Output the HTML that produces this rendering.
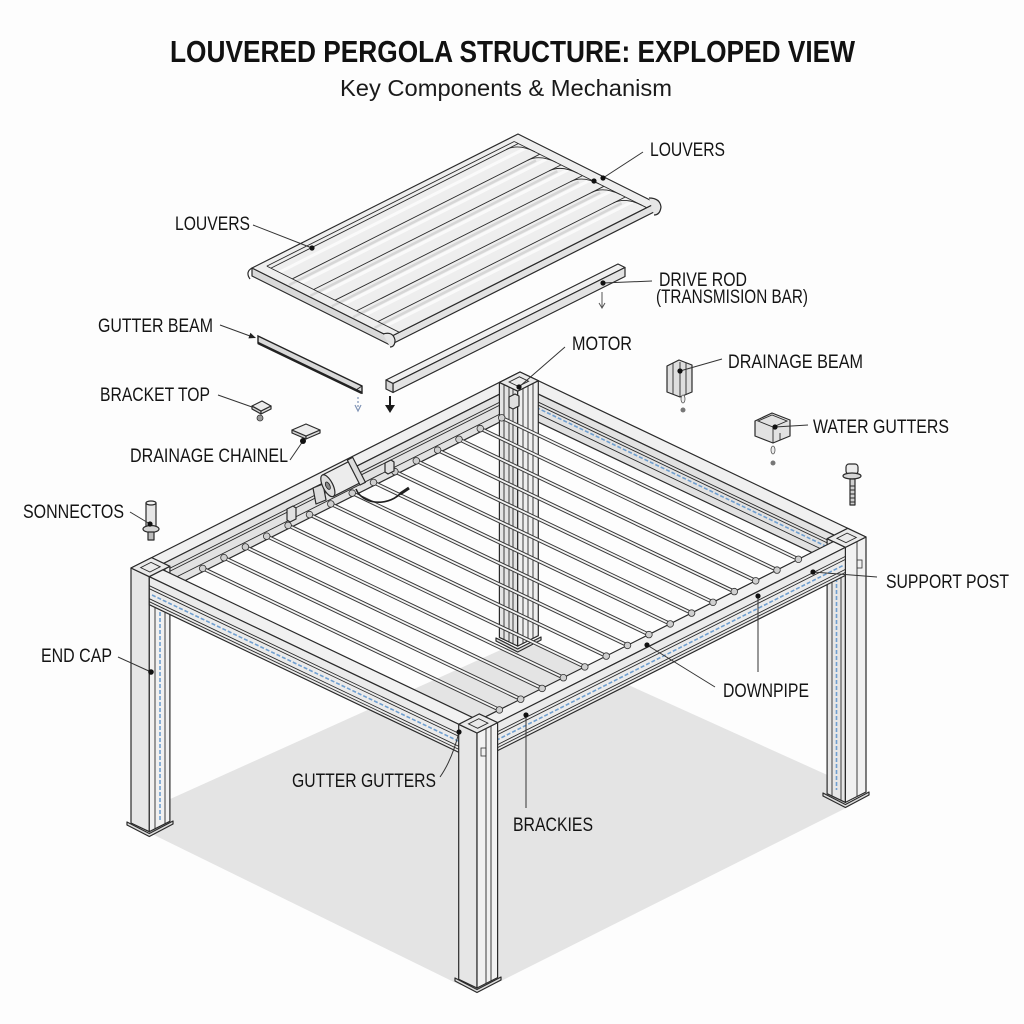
<!DOCTYPE html>
<html><head><meta charset="utf-8"><style>
html,body{margin:0;padding:0;background:#fdfdfd}
svg{display:block}
.t{font-family:"Liberation Sans",Arial,sans-serif;font-size:19px;fill:#141414}
.s{stroke:#2a2a2a;stroke-width:1.2;stroke-linejoin:round}
.ln{stroke:#2a2a2a;stroke-width:0.9;fill:none}
.ld{stroke:#333;stroke-width:1;fill:none}
.bl{stroke:#6f9fd0;stroke-width:1.6;stroke-dasharray:4 2;fill:none}
</style></head><body>
<svg width="1024" height="1024" viewBox="0 0 1024 1024" xmlns="http://www.w3.org/2000/svg">
<defs>
<path id="sl" d="M501.7,417.8L824.5,571.7 M480.3,428.6L803.1,582.5 M459,439.3L781.8,593.2 M437.6,450.1L760.4,604 M416.3,460.8L739.1,614.7 M394.9,471.6L717.7,625.5 M373.5,482.4L696.3,636.3 M352.2,493.1L675,647 M330.8,503.9L653.6,657.8 M309.5,514.6L632.3,668.5 M288.1,525.4L610.9,679.3 M266.7,536.2L589.5,690.1 M245.4,546.9L568.2,700.8 M224,557.7L546.8,711.6 M202.7,568.4L525.5,722.3"/>
</defs>
<rect width="1024" height="1024" fill="#fdfdfd"/>

<!-- Title -->
<text x="170" y="62" textLength="685" lengthAdjust="spacingAndGlyphs" style="font-family:'Liberation Sans',Arial,sans-serif;font-size:31px;font-weight:bold;fill:#111">LOUVERED PERGOLA STRUCTURE: EXPLOPED VIEW</text>
<text x="340" y="96" textLength="332" lengthAdjust="spacingAndGlyphs" style="font-family:'Liberation Sans',Arial,sans-serif;font-size:23px;fill:#1a1a1a">Key Components &amp; Mechanism</text>

<!-- Shadow -->
<polygon points="168,800 505,648 540,645 845,783 850,806 497,983 460,985 150,833 160,825" fill="#e4e4e4"/>

<!-- Back-left beam -->
<polygon class="s" points="520,372 131,568 143.1,573.8 532.1,377.8" fill="#f0f0f0"/>
<polygon class="s" points="518.5,384.7 156.7,566.9 156.7,594.9 518.5,412.7" fill="#e2e2e2"/>
<path class="ln" d="M518.5,392.7L156.7,574.9 M518.5,395.7L156.7,577.9 M518.5,404.7L156.7,586.9"/>
<!-- Back-right beam -->
<polygon class="s" points="520,372 866,537 852.4,543.9 506.4,378.9" fill="#f0f0f0"/>
<polygon class="s" points="518.5,384.7 840.3,538.1 840.3,566.1 518.5,412.7" fill="#e2e2e2"/>
<path class="ln" d="M518.5,392.7L840.3,546.1 M518.5,395.7L840.3,549.1 M518.5,404.7L840.3,558.1"/>
<path class="bl" d="M520,399.7L838,552"/>

<!-- Back post -->
<polygon class="s" points="499.4,382.4 517.7,391.1 517.7,646.1 499.4,637.4" fill="#e4e4e4"/>
<polygon class="s" points="517.7,391.1 538.3,380.7 538.3,635.7 517.7,646.1" fill="#efefef"/>
<path class="ln" d="M504,384.6V639.6 M509,387V642 M513,388.9V643.9 M523,388.4V643.4 M528,385.9V640.9 M533,383.4V638.4"/>
<polygon class="s" points="496,638 517.7,649 541,637 541,640 517.7,652 496,641" fill="#dcdcdc"/>
<polygon class="s" points="520,372 499.4,382.4 517.7,391.1 538.3,380.7" fill="#eaeaea"/>
<polygon class="ln" points="519.4,376.8 509.1,382 518.3,386.4 528.6,381.2" fill="#d4d4d4"/>

<!-- Slats -->
<use href="#sl" fill="none" stroke="#3a3a3a" stroke-width="3.8"/>
<use href="#sl" fill="none" stroke="#f4f4f4" stroke-width="1.8"/>
<g fill="#cfcfcf" stroke="#333" stroke-width="0.8">
<circle cx="501.7" cy="417.8" r="3.3"/><circle cx="480.3" cy="428.6" r="3.3"/><circle cx="459" cy="439.3" r="3.3"/><circle cx="437.6" cy="450.1" r="3.3"/><circle cx="416.3" cy="460.8" r="3.3"/><circle cx="394.9" cy="471.6" r="3.3"/><circle cx="373.5" cy="482.4" r="3.3"/><circle cx="352.2" cy="493.1" r="3.3"/><circle cx="330.8" cy="503.9" r="3.3"/><circle cx="309.5" cy="514.6" r="3.3"/><circle cx="288.1" cy="525.4" r="3.3"/><circle cx="266.7" cy="536.2" r="3.3"/><circle cx="245.4" cy="546.9" r="3.3"/><circle cx="224" cy="557.7" r="3.3"/><circle cx="202.7" cy="568.4" r="3.3"/>
</g>

<!-- Small blocks & motor on back-left beam -->
<polygon class="s" points="287,509 293,506 296,508 296,519 290,522 287,520" fill="#e0e0e0" stroke-width="0.9"/>
<polygon class="s" points="385,463 391,460 394,462 394,471 388,474 385,472" fill="#e0e0e0" stroke-width="0.9"/>
<polygon class="s" points="509,397 515,394 519,396 519,406 513,409 509,407" fill="#e0e0e0" stroke-width="0.9"/>
<polygon class="s" points="313,488 323,484 326,500 316,504" fill="#dcdcdc" stroke-width="0.9"/>
<g transform="translate(343,478) rotate(-27)">
<rect class="s" x="-17" y="-12" width="34" height="24" fill="#ececec"/>
<rect class="s" x="12" y="-14" width="6" height="28" fill="#dcdcdc"/>
<ellipse class="s" cx="-17" cy="0" rx="5" ry="12" fill="#dedede"/>
<ellipse cx="-17" cy="0" rx="2" ry="4" fill="#888" stroke="#222" stroke-width="0.8"/>
</g>
<path d="M356,489 C362,504 386,507 400,494" stroke="#1e1e1e" stroke-width="1.6" fill="none"/>
<path d="M400,494 L409,488" stroke="#1e1e1e" stroke-width="3"/>

<!-- Left post -->
<polygon class="s" points="131,568 149.3,576.7 149.3,831.7 131,823" fill="#e6e6e6"/>
<polygon class="s" points="149.3,576.7 169.9,566.3 169.9,821.3 149.3,831.7" fill="#f1f1f1"/>
<path class="ln" d="M155,574V829 M165,569V824"/>
<path class="bl" d="M160,606V822"/>
<polygon class="s" points="127,822 149.3,833.5 173,821 173,824 149.3,836.5 127,825" fill="#dcdcdc"/>
<polygon class="s" points="131,568 149.3,576.7 169.9,566.3 151.6,557.6" fill="#eaeaea"/>
<polygon class="ln" points="140.7,567.6 149.9,572 160.2,566.8 151,562.4" fill="#d4d4d4"/>

<!-- Right post -->
<polygon class="s" points="827.1,538.7 845.4,547.4 845.4,802.4 827.1,793.7" fill="#e6e6e6"/>
<polygon class="s" points="845.4,547.4 866,537 866,792 845.4,802.4" fill="#f1f1f1"/>
<path class="ln" d="M832,541V796 M841,545V800 M857,541V796"/>
<path class="bl" d="M836.5,578V790"/>
<polygon class="s" points="823,793 845.4,804.5 869,792 869,795 845.4,807.5 823,796" fill="#dcdcdc"/>
<polygon class="s" points="866,537 845.4,547.4 827.1,538.7 847.7,528.3" fill="#eaeaea"/>
<polygon class="ln" points="856.3,537.5 846,542.6 836.9,538.3 847.1,533.1" fill="#d4d4d4"/>
<rect x="857" y="560" width="5" height="8" fill="none" stroke="#333" stroke-width="0.8"/>

<!-- Front-left beam -->
<polygon class="s" points="149.3,576.7 477,733 490.6,726.1 162.9,569.8" fill="#f1f1f1"/>
<polygon class="s" points="149.3,576.7 477,733 477,761 149.3,604.7" fill="#ebebeb"/>
<path class="ln" d="M149.3,585.7L477,742 M149.3,588.7L477,745 M149.3,598.7L477,755 M149.3,601.7L477,758"/>
<path class="bl" d="M152,595L475,749"/>

<!-- Front-right beam -->
<polygon class="s" points="477,733 845.4,547.4 833.3,541.6 464.9,727.2" fill="#f1f1f1"/>
<polygon class="s" points="477,733 845.4,547.4 845.4,575.4 477,761" fill="#ebebeb"/>
<path class="ln" d="M477,742L845.4,556.4 M477,745L845.4,559.4 M477,755L845.4,569.4 M477,758L845.4,572.4"/>
<path class="bl" d="M480,748.5L843,565.5"/>
<g fill="#cfcfcf" stroke="#333" stroke-width="0.8">
<circle cx="798.4" cy="559.3" r="3.3"/><circle cx="777" cy="570.1" r="3.3"/><circle cx="755.7" cy="580.8" r="3.3"/><circle cx="734.3" cy="591.6" r="3.3"/><circle cx="713" cy="602.3" r="3.3"/><circle cx="691.6" cy="613.1" r="3.3"/><circle cx="670.2" cy="623.9" r="3.3"/><circle cx="648.9" cy="634.6" r="3.3"/><circle cx="627.5" cy="645.4" r="3.3"/><circle cx="606.2" cy="656.1" r="3.3"/><circle cx="584.8" cy="666.9" r="3.3"/><circle cx="563.4" cy="677.7" r="3.3"/><circle cx="542.1" cy="688.4" r="3.3"/><circle cx="520.7" cy="699.2" r="3.3"/><circle cx="499.4" cy="709.9" r="3.3"/>
</g>

<!-- Front post -->
<polygon class="s" points="458.7,724.3 477,733 477,988 458.7,979.3" fill="#e6e6e6"/>
<polygon class="s" points="477,733 497.6,722.6 497.6,977.6 477,988" fill="#f1f1f1"/>
<path class="ln" d="M486,729V984 M491,726V981"/>
<rect x="481" y="748" width="5" height="8" fill="none" stroke="#333" stroke-width="0.8"/>
<polygon class="s" points="455,978 477,989.5 501,977 501,980 477,992.5 455,981" fill="#dcdcdc"/>
<polygon class="s" points="477,733 497.6,722.6 479.3,713.9 458.7,724.3" fill="#eaeaea"/>
<polygon class="ln" points="477.6,728.3 487.9,723.1 478.8,718.7 468.5,723.9" fill="#d4d4d4"/>

<!-- Louver panel -->
<polygon class="s" points="252,268 390,337 390,345 252,276" fill="#d9d9d9"/>
<polygon class="s" points="390,337 656,203 656,211 390,345" fill="#e2e2e2"/>
<polygon class="s" points="252,268 518,134 656,203 390,337" fill="#eeeeee"/>
<path d="M279.2,272.3L526.6,147.7 M300.6,283L548,158.4 M322,293.7L569.4,169.1 M343.4,304.4L590.8,179.8 M364.8,315.1L612.2,190.5 M386.2,325.8L633.6,201.2" stroke="#fafafa" stroke-width="3" fill="none"/>
<path d="M289,285L536,160.5 M310.4,295.7L557.4,171.2 M331.8,306.4L578.8,181.9 M353.2,317.1L600.2,192.6 M374.6,327.8L621.6,203.3" stroke="#d6d6d6" stroke-width="2.5" fill="none"/>
<path class="ln" d="M266.8,266.1L514.2,141.5 M271,268.1L518.4,143.5 M292.4,278.8L539.8,154.2 M313.7,289.5L561.1,164.9 M335.1,300.2L582.5,175.6 M356.5,310.9L603.9,186.3 M377.9,321.6L625.3,197 M266.8,266.1L399.3,332.3 M514.2,141.5L646.7,207.7" stroke-width="1.1"/>
<path class="ln" d="M506.4,149.5Q518.4,143.5 535,151.8 M527.8,160.2Q539.8,154.2 556.4,162.5 M549.1,170.9Q561.1,164.9 577.7,173.2 M570.5,181.6Q582.5,175.6 599.1,183.9 M591.9,192.3Q603.9,186.3 620.5,194.6 M613.3,203Q625.3,197 641.9,205.3"/>
<path class="s" d="M649,198 Q660,198 661,207 Q660,215 654,215" fill="#e6e6e6"/>
<path class="s" d="M383,334 Q393,331 395,340 Q395,347 390,347" fill="#e6e6e6"/>
<path class="s" d="M252,268 Q245,272 250,279" fill="none"/>

<!-- Drive rod -->
<polygon class="s" points="386,380 618,264 625,267.5 393,383.5" fill="#f0f0f0"/>
<polygon class="s" points="393,383.5 625,267.5 625,276.5 393,392.5" fill="#e3e3e3"/>
<polygon class="s" points="386,380 393,383.5 393,392.5 386,389" fill="#d6d6d6"/>
<!-- Gutter beam -->
<polygon points="258,336 362,386 362,393 258,343" fill="#d9d9d9" stroke="#222" stroke-width="1.4"/>
<path d="M258,343L362,393" stroke="#222" stroke-width="2.5"/>
<path d="M356,390L362,386" stroke="#222" stroke-width="1"/>

<!-- Arrows -->
<path d="M358,397V409" stroke="#7f93b5" stroke-width="1.2" stroke-dasharray="2 2"/>
<path d="M355,405L358,411L361,405" stroke="#7f93b5" stroke-width="1.2" fill="none"/>
<path d="M390,396V406" stroke="#1a1a1a" stroke-width="2"/>
<polygon points="385,405 395,405 390,413" fill="#1a1a1a"/>
<path d="M602,292V307 M599,303L602,308L605,303" stroke="#555" stroke-width="1" fill="none"/>

<!-- Bracket top part -->
<polygon class="s" points="252,406 261,411 261,414 252,409" fill="#cfcfcf" stroke-width="0.9"/>
<polygon class="s" points="261,411 271,406 271,409 261,414" fill="#dadada" stroke-width="0.9"/>
<polygon class="s" points="252,406 262,401 271,406 261,411" fill="#ececec" stroke-width="0.9"/>
<circle cx="260" cy="418" r="3" fill="#9a9a9a" stroke="#333" stroke-width="0.8"/>
<!-- Drainage chainel plate -->
<polygon class="s" points="292,430 306,436 306,439 292,433" fill="#cfcfcf" stroke-width="0.9"/>
<polygon class="s" points="306,436 320,430 320,433 306,439" fill="#dadada" stroke-width="0.9"/>
<polygon class="s" points="292,430 306,424 320,430 306,436" fill="#ececec" stroke-width="0.9"/>
<!-- Sonnectos part -->
<rect class="s" x="146" y="503" width="10" height="24" fill="#e6e6e6" stroke-width="0.9"/>
<ellipse class="s" cx="151" cy="503" rx="5" ry="2" fill="#f2f2f2" stroke-width="0.9"/>
<ellipse class="s" cx="151" cy="529" rx="8" ry="3.5" fill="#d4d4d4" stroke-width="0.9"/>
<rect class="s" x="148" y="532" width="6" height="8" fill="#bbb" stroke-width="0.9"/>
<!-- Drainage beam part -->
<polygon class="s" points="667,366 679,360 692,365 692,392 680,397 667,392" fill="#dedede"/>
<path class="ln" d="M673,363V394 M680,362V397 M686,363V395"/>
<ellipse cx="683" cy="399" rx="2" ry="4" fill="#eee" stroke="#555" stroke-width="0.8"/>
<circle cx="683" cy="410" r="2.5" fill="#777"/>
<!-- Water gutters part -->
<polygon class="s" points="755,421 772,413 790,420 790,436 773,443 755,436" fill="#e2e2e2"/>
<polygon class="ln" points="758,421 772,415 787,421 773,427" fill="#f5f5f5"/>
<path class="ln" d="M773,427V443 M780,433V440"/>
<ellipse cx="773" cy="450" rx="2" ry="4" fill="#eee" stroke="#555" stroke-width="0.8"/>
<circle cx="773" cy="463" r="2.5" fill="#777"/>
<!-- Bolt right -->
<rect class="s" x="846" y="464" width="12" height="10" rx="3" fill="#ececec" stroke-width="0.9"/>
<ellipse class="s" cx="852" cy="476" rx="9" ry="3" fill="#d6d6d6" stroke-width="0.9"/>
<rect class="s" x="850" y="479" width="5" height="26" fill="#cfcfcf" stroke-width="0.9"/>
<path class="ln" d="M850,486H855 M850,490H855 M850,494H855 M850,498H855 M850,502H855" stroke-width="0.7"/>

<!-- Leaders -->
<g class="ld">
<path d="M643,152L603,178"/>
<path d="M253,225L312,248"/>
<path d="M652,281L603,283"/>
<path d="M220,325L250,336"/>
<path d="M565,347L519,387"/>
<path d="M722,359L680,371"/>
<path d="M218,395L252,407"/>
<path d="M808,425L775,427"/>
<path d="M290,460L303,441"/>
<path d="M130,512L150,524"/>
<path d="M877,577L813,572"/>
<path d="M118,657L151,672"/>
<path d="M715,687L647,645"/>
<path d="M758,596V672"/>
<path d="M440,777Q452,760 459,732"/>
<path d="M526,715V808"/>
</g>
<polygon points="256,338 248.4,338.4 250.4,332.8" fill="#222"/>
<g fill="#111">
<circle cx="603" cy="178" r="2.6"/><circle cx="594" cy="181" r="2.6"/>
<circle cx="312" cy="248" r="2.6"/>
<circle cx="603" cy="283" r="2.6"/>
<circle cx="519" cy="387" r="2.6"/>
<circle cx="680" cy="371" r="2.6"/>
<circle cx="775" cy="427" r="2.6"/>
<circle cx="303" cy="441" r="3"/>
<circle cx="150" cy="524" r="2.6"/>
<circle cx="813" cy="572" r="2.6"/>
<circle cx="151" cy="672" r="2.8"/>
<circle cx="647" cy="645" r="2.6"/>
<circle cx="758" cy="596" r="2.6"/>
<circle cx="459" cy="732" r="2.6"/>
<circle cx="526" cy="715" r="2.6"/>
</g>

<!-- Labels -->
<text class="t" x="650" y="156" textLength="75" lengthAdjust="spacingAndGlyphs">LOUVERS</text>
<text class="t" x="175" y="230" textLength="75" lengthAdjust="spacingAndGlyphs">LOUVERS</text>
<text class="t" x="659" y="286" textLength="88" lengthAdjust="spacingAndGlyphs">DRIVE ROD</text>
<text class="t" x="656" y="303" textLength="152" lengthAdjust="spacingAndGlyphs">(TRANSMISION BAR)</text>
<text class="t" x="98" y="332" textLength="115" lengthAdjust="spacingAndGlyphs">GUTTER BEAM</text>
<text class="t" x="572" y="350" textLength="60" lengthAdjust="spacingAndGlyphs">MOTOR</text>
<text class="t" x="728" y="368" textLength="135" lengthAdjust="spacingAndGlyphs">DRAINAGE BEAM</text>
<text class="t" x="100" y="401" textLength="110" lengthAdjust="spacingAndGlyphs">BRACKET TOP</text>
<text class="t" x="813" y="433" textLength="136" lengthAdjust="spacingAndGlyphs">WATER GUTTERS</text>
<text class="t" x="130" y="462" textLength="158" lengthAdjust="spacingAndGlyphs">DRAINAGE CHAINEL</text>
<text class="t" x="23" y="518" textLength="101" lengthAdjust="spacingAndGlyphs">SONNECTOS</text>
<text class="t" x="886" y="588" textLength="123" lengthAdjust="spacingAndGlyphs">SUPPORT POST</text>
<text class="t" x="41" y="662" textLength="71" lengthAdjust="spacingAndGlyphs">END CAP</text>
<text class="t" x="723" y="697" textLength="86" lengthAdjust="spacingAndGlyphs">DOWNPIPE</text>
<text class="t" x="292" y="787" textLength="144" lengthAdjust="spacingAndGlyphs">GUTTER GUTTERS</text>
<text class="t" x="513" y="831" textLength="80" lengthAdjust="spacingAndGlyphs">BRACKIES</text>
</svg>
</body></html>
